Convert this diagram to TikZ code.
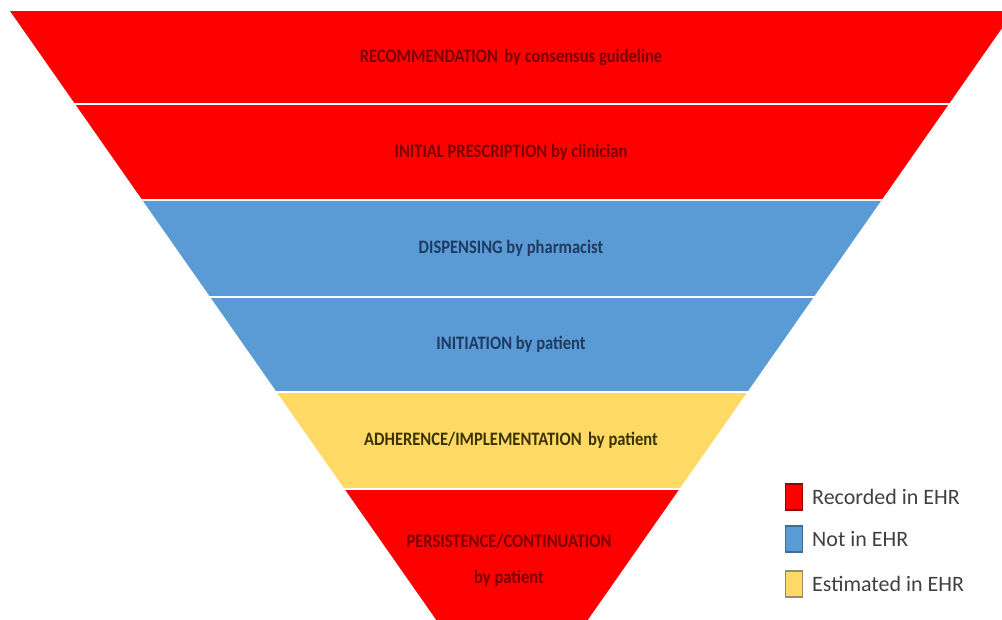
\documentclass[tikz,border=0pt]{standalone}
\usepackage{fontspec}
\setmainfont{Carlito}
\definecolor{recred}{HTML}{FF0000}
\definecolor{notblue}{HTML}{5B9BD5}
\definecolor{estyellow}{HTML}{FFD966}
\definecolor{txtred}{HTML}{7A0000}
\definecolor{txtblue}{HTML}{1F3A60}
\definecolor{txtyellow}{HTML}{3A3300}
\definecolor{legtxt}{HTML}{404040}
\tikzset{
  band/.style={draw=none},
  sep/.style={draw=white, line width=2.5pt},
  steptext/.style={font=\fontsize{19}{22}\selectfont\bfseries, inner sep=0pt, align=center},
  legbox/.style={minimum width=17pt, minimum height=26pt, inner sep=0pt, line width=1.2pt},
  legtext/.style={font=\fontsize{22}{26}\selectfont, text=legtxt, anchor=west, inner sep=0pt}
}
% left edge x = 10 + 0.7 (y - 11), right edge x = 1014 - 0.7 (y - 11)
\newcommand{\lx}[1]{10+0.7*(#1-11)}
\newcommand{\rx}[1]{1014-0.7*(#1-11)}
\newcommand{\narrow}[1]{\scalebox{0.87}[1]{#1}}
\begin{document}
\begin{tikzpicture}[x=1pt, y=-1pt]
  \useasboundingbox (0,0) rectangle (1002,619);
  \begin{scope}
    \clip (0,0) rectangle (1002,619);
    % funnel bands, top to bottom
    \fill[recred]    ({\lx{11}},11)  -- ({\rx{11}},11)  -- ({\rx{104}},104) -- ({\lx{104}},104) -- cycle;
    \fill[recred]    ({\lx{104}},104) -- ({\rx{104}},104) -- ({\rx{200}},200) -- ({\lx{200}},200) -- cycle;
    \fill[notblue]   ({\lx{200}},200) -- ({\rx{200}},200) -- ({\rx{297}},297) -- ({\lx{297}},297) -- cycle;
    \fill[notblue]   ({\lx{297}},297) -- ({\rx{297}},297) -- ({\rx{392}},392) -- ({\lx{392}},392) -- cycle;
    \fill[estyellow] ({\lx{392}},392) -- ({\rx{392}},392) -- ({\rx{489}},489) -- ({\lx{489}},489) -- cycle;
    \fill[recred]    ({\lx{489}},489) -- ({\rx{489}},489) -- (512,{11+502/0.7}) -- cycle;
    % white separators between bands
    \foreach \yy in {104,200,297,392,489}
      \draw[sep] ({\lx{\yy}-2},\yy) -- ({\rx{\yy}+2},\yy);
  \end{scope}
  % band labels
  \node[steptext, text=txtred]    (rec)  at (511,57)  {\narrow{RECOMMENDATION\, by consensus guideline}};
  \node[steptext, text=txtred]    (pres) at (511,152) {\narrow{INITIAL PRESCRIPTION by clinician}};
  \node[steptext, text=txtblue]   (disp) at (511,248) {\narrow{DISPENSING by pharmacist}};
  \node[steptext, text=txtblue]   (init) at (511,344) {\narrow{INITIATION by patient}};
  \node[steptext, text=txtyellow] (adh)  at (511,440) {\narrow{ADHERENCE/IMPLEMENTATION\, by patient}};
  \node[steptext, text=txtred]    (pers) at (509,541) {\narrow{PERSISTENCE/CONTINUATION}};
  \node[steptext, text=txtred]    (pby)  at (509,578) {\narrow{by patient}};
  % legend
  \node[legbox, fill=recred, draw=red!60!black]      (kr) at (794,497) {};
  \node[legbox, fill=notblue, draw=notblue!70!black] (kb) at (794,539) {};
  \node[legbox, fill=estyellow, draw=gray!80!olive]  (ky) at (794,584) {};
  \node[legtext] (tr) at (812,497) {Recorded in EHR};
  \node[legtext] (tb) at (812,539) {Not in EHR};
  \node[legtext] (ty) at (812,584) {Estimated in EHR};
\end{tikzpicture}
\end{document}
